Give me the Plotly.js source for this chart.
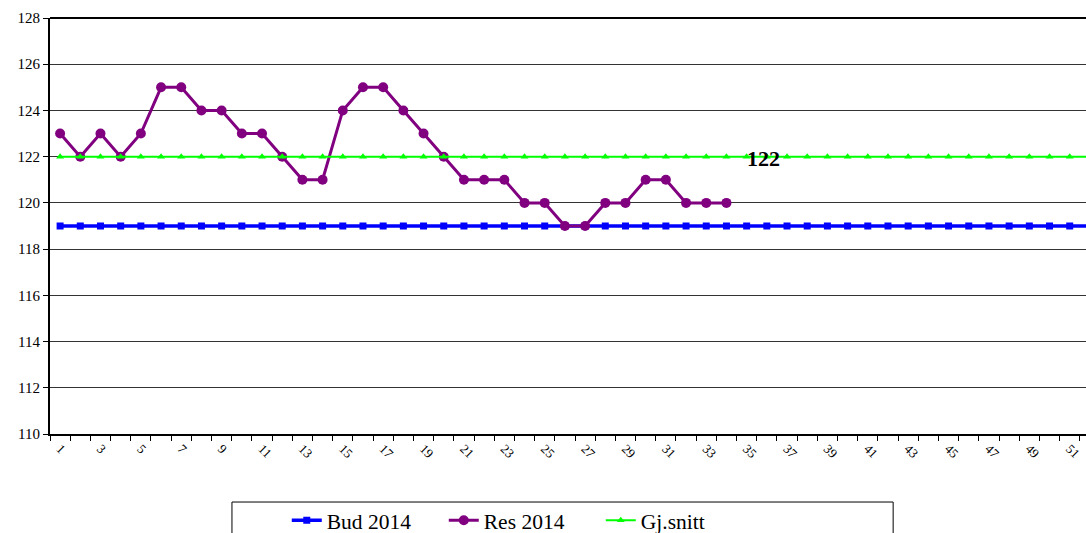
<!DOCTYPE html>
<html>
<head>
<meta charset="utf-8">
<script src="https://cdn.plot.ly/plotly-3.0.1.min.js"></script>
<style>
html,body{margin:0;padding:0;overflow:hidden;background:#fff;}
#chart{width:1100px;height:533px;}
</style>
</head>
<body>
<div id="chart"></div>
<script>
// Weeks 1..52
var weeks = [];
for (var i = 1; i <= 52; i++) weeks.push(i);
var budValues = [119,119,119,119,119,119,119,119,119,119,119,119,119,119,119,119,119,119,119,119,119,119,119,119,119,119,119,119,119,119,119,119,119,119,119,119,119,119,119,119,119,119,119,119,119,119,119,119,119,119,119,119];
var resWeeks = weeks.slice(0, 34);
var resValues = [123,122,123,122,123,125,125,124,124,123,123,122,121,121,124,125,125,124,123,122,121,121,121,120,120,119,119,120,120,121,121,120,120,120];
var snittValues = [122,122,122,122,122,122,122,122,122,122,122,122,122,122,122,122,122,122,122,122,122,122,122,122,122,122,122,122,122,122,122,122,122,122,122,122,122,122,122,122,122,122,122,122,122,122,122,122,122,122,122,122];
var xTickLabels = [];
for (var k = 1; k <= 51; k += 2) xTickLabels.push(k);
var annotWeek = 36, annotValue = 122, annotText = "122";

var serif = "Liberation Serif";

var traces = [
  {x: weeks, y: budValues, name: "Bud 2014", type: "scatter", mode: "lines+markers",
   line: {color: "#0000FF", width: 3.5}, marker: {symbol: "square", size: 7, color: "#0000FF"}},
  {x: resWeeks, y: resValues, name: "Res 2014", type: "scatter", mode: "lines+markers",
   line: {color: "#800080", width: 3}, marker: {symbol: "circle", size: 10, color: "#800080"}},
  {x: weeks, y: snittValues, name: "Gj.snitt", type: "scatter", mode: "lines+markers",
   line: {color: "#00FF00", width: 2}, marker: {symbol: "triangle-up", size: 7, color: "#00FF00"}}
];

var layout = {
  width: 1100, height: 533,
  margin: {l: 50, r: 0, t: 18, b: 99, autoexpand: false},
  paper_bgcolor: "#fff", plot_bgcolor: "#fff",
  font: {family: serif, color: "#000"},
  showlegend: true,
  legend: {orientation: "h", x: 0.2255, xanchor: "left", y: -0.158, yanchor: "top",
    font: {family: serif, size: 21.5, color: "#000"}, entrywidth: 112, bgcolor: "rgba(0,0,0,0)",
    traceorder: "normal"},
  xaxis: {range: [0.5, 52.5], tickmode: "array", tickvals: xTickLabels, ticktext: xTickLabels.map(String),
    tickangle: 45, ticks: "", showgrid: false, zeroline: false, automargin: false,
    showline: true, linecolor: "#000", linewidth: 2, mirror: false,
    tickfont: {family: serif, size: 13, color: "#000"},
    minor: {tick0: 0.5, dtick: 1, ticks: "outside", ticklen: 5, tickcolor: "#000", tickwidth: 1, showgrid: false}},
  yaxis: {range: [110, 128], dtick: 2, tick0: 110, ticks: "outside", ticklen: 5, tickcolor: "#000",
    showgrid: true, gridcolor: "#333", gridwidth: 1, zeroline: false, automargin: false,
    showline: true, linecolor: "#000", linewidth: 2,
    tickfont: {family: serif, size: 15, color: "#000"}},
  shapes: [
    {type: "line", xref: "paper", yref: "paper", x0: 0, x1: 1, y0: 1, y1: 1, line: {color: "#000", width: 2}},
    {type: "rect", xref: "paper", yref: "paper", x0: 0.1733, x1: 0.803, y0: -0.1635, y1: -0.35, line: {color: "#000", width: 1}}
  ],
  annotations: [
    {x: annotWeek, y: annotValue, xref: "x", yref: "y", text: "<b>" + annotText + "</b>", showarrow: false,
     font: {family: serif, size: 22, color: "#000"}, xshift: -3, yshift: -2}
  ]
};

Plotly.newPlot("chart", traces, layout, {displayModeBar: false, staticPlot: true});
</script>
</body>
</html>
